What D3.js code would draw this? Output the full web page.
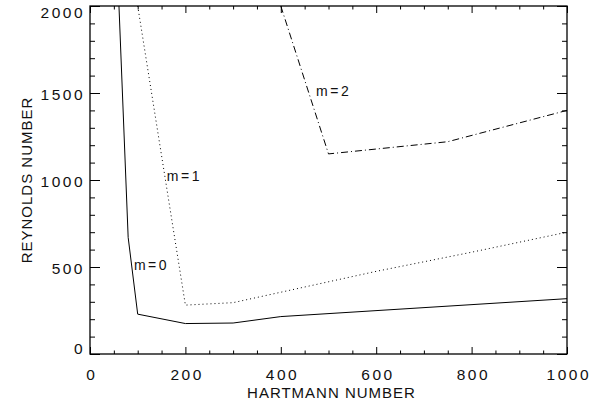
<!DOCTYPE html>
<html><head><meta charset="utf-8">
<script src="https://cdn.jsdelivr.net/npm/d3@7"></script>
<style>
body{margin:0;background:#fff;}
text{font-family:"Liberation Sans",Arial,Helvetica,sans-serif;fill:#111;}
</style></head>
<body><svg id="c" width="598" height="409"></svg>
<script>
// Data (Hartmann number vs critical Reynolds number)
const hartmannM0 = [60, 80, 100, 200, 300, 400, 1000];
const reynoldsM0 = [2050, 670, 229, 175, 178, 215, 318];
const hartmannM1 = [100, 200, 300, 400, 600, 800, 1000];
const reynoldsM1 = [2000, 281, 295, 355, 475, 585, 700];
const hartmannM2 = [400, 500, 750, 1000];
const reynoldsM2 = [2000, 1150, 1220, 1400];
const seriesLabels = ["m=0", "m=1", "m=2"];
const labelPos = [[92, 511], [161, 1023], [474, 1511]]; // data coords where labels start
const xTicks = [0, 200, 400, 600, 800, 1000];
const yTicks = [0, 500, 1000, 1500, 2000];
const xTitle = "HARTMANN NUMBER";
const yTitle = "REYNOLDS NUMBER";

const svg = d3.select("#c");
const L = 90, R = 567, T = 6, B = 354;
const x = d3.scaleLinear().domain([0, 1000]).range([L, R]);
const y = d3.scaleLinear().domain([0, 2000]).range([B, T]);

svg.append("clipPath").attr("id","clip").append("rect")
  .attr("x", L).attr("y", T).attr("width", R - L).attr("height", B - T);

const xMinor = d3.range(0, 1001, 50).filter(v => v % 200 !== 0);
const yMinor = d3.range(0, 2001, 100).filter(v => v % 500 !== 0);
const xLen = 7, yLen = 10;
const LS = 2.5;

function styleAxis(g){ g.select(".domain").remove(); g.selectAll("line").attr("stroke","#000"); }

svg.append("g").attr("transform",`translate(0,${B})`)
  .call(d3.axisBottom(x).tickValues(xTicks).tickSize(-xLen).tickPadding(15).tickFormat(d3.format("d")))
  .call(styleAxis)
  .selectAll("text").attr("font-size", 15.5).attr("letter-spacing", LS+"px").attr("dx", (LS/2)+"px");
svg.append("g").attr("transform",`translate(0,${B})`)
  .call(d3.axisBottom(x).tickValues(xMinor).tickSize(-xLen/2).tickFormat(""))
  .call(styleAxis);
svg.append("g").attr("transform",`translate(0,${T})`)
  .call(d3.axisTop(x).tickValues(xTicks).tickSize(-xLen).tickFormat(""))
  .call(styleAxis);
svg.append("g").attr("transform",`translate(0,${T})`)
  .call(d3.axisTop(x).tickValues(xMinor).tickSize(-xLen/2).tickFormat(""))
  .call(styleAxis);

svg.append("g").attr("transform",`translate(${L},0)`)
  .call(d3.axisLeft(y).tickValues(yTicks).tickSize(-yLen).tickPadding(5).tickFormat(d3.format("d")))
  .call(styleAxis)
  .selectAll("text").attr("font-size", 15.5).attr("letter-spacing", LS+"px")
  .attr("dy", d => d === 0 ? "-0.05em" : d === 2000 ? "0.72em" : "0.4em");
svg.append("g").attr("transform",`translate(${L},0)`)
  .call(d3.axisLeft(y).tickValues(yMinor).tickSize(-yLen/2).tickFormat(""))
  .call(styleAxis);
svg.append("g").attr("transform",`translate(${R},0)`)
  .call(d3.axisRight(y).tickValues(yTicks).tickSize(-yLen).tickFormat(""))
  .call(styleAxis);
svg.append("g").attr("transform",`translate(${R},0)`)
  .call(d3.axisRight(y).tickValues(yMinor).tickSize(-yLen/2).tickFormat(""))
  .call(styleAxis);

svg.append("rect").attr("x", L).attr("y", T).attr("width", R - L).attr("height", B - T)
  .attr("fill","none").attr("stroke","#000").attr("stroke-width",1.3);

const line = d3.line().x(d => x(d[0])).y(d => y(d[1]));
const series = [
  {h: hartmannM0, r: reynoldsM0, dash: null},
  {h: hartmannM1, r: reynoldsM1, dash: "1,3"},
  {h: hartmannM2, r: reynoldsM2, dash: "7,3,1,3"}
];
const gl = svg.append("g").attr("clip-path","url(#clip)");
series.forEach(s => {
  gl.append("path").datum(s.h.map((v,i)=>[v, s.r[i]]))
    .attr("d", line).attr("fill","none").attr("stroke","#000").attr("stroke-width",1)
    .attr("stroke-dasharray", s.dash);
});

seriesLabels.forEach((t,i) => {
  svg.append("text").attr("x", x(labelPos[i][0])).attr("y", y(labelPos[i][1]))
    .attr("dy","0.35em").attr("font-size",14).attr("letter-spacing","2.5px").text(t);
});

svg.append("text").attr("x", (L+R)/2 + 3).attr("y", 398).attr("text-anchor","middle")
  .attr("font-size",15).attr("letter-spacing","1px").text(xTitle);
svg.append("text").attr("transform",`translate(32,${(T+B)/2}) rotate(-90)`).attr("text-anchor","middle")
  .attr("font-size",15).attr("letter-spacing","1px").text(yTitle);
</script></body></html>
